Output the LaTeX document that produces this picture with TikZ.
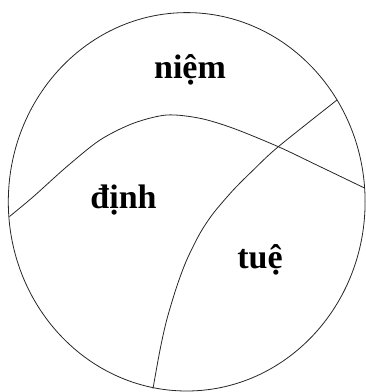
\documentclass[tikz,border=0pt]{standalone}
\usepackage{fontspec}
\setmainfont{Liberation Serif}
\begin{document}
\begin{tikzpicture}[x=1pt,y=-1pt,
  edge/.style={line width=0.8pt, black!85},
  lbl/.style={font=\fontsize{34}{38}\selectfont\bfseries, anchor=base, inner sep=0pt}]
\useasboundingbox (0,0) rectangle (366,392);
\coordinate (c) at (186.7,201.8);
\draw[edge] (c) ellipse [x radius=178.4pt, y radius=189.2pt];
\coordinate (L) at (9.5,216.5);
\coordinate (R) at (364.5,188);
\coordinate (T) at (337,100);
\coordinate (B) at (153,388.5);
\coordinate (X) at (278.3,146.7);
\draw[edge] plot[smooth] coordinates {(L) (33.3,196.7) (66.7,166.7) (100,140) (133.3,123.3) (166.7,115) (200,118.3) (233.3,128.3) (X) (316.7,165) (R)};
\draw[edge] plot[smooth] coordinates {(T) (X) (253.3,170) (233.3,190) (213.3,213.3) (200,233.3) (186.7,260) (176.7,286.7) (166.7,320) (160,350) (B)};
\node[lbl] (niem) at (190,78) {niệm};
\node[lbl] (dinh) at (123.5,208) {định};
\node[lbl] (tue) at (260,268) {tuệ};
\end{tikzpicture}
\end{document}
